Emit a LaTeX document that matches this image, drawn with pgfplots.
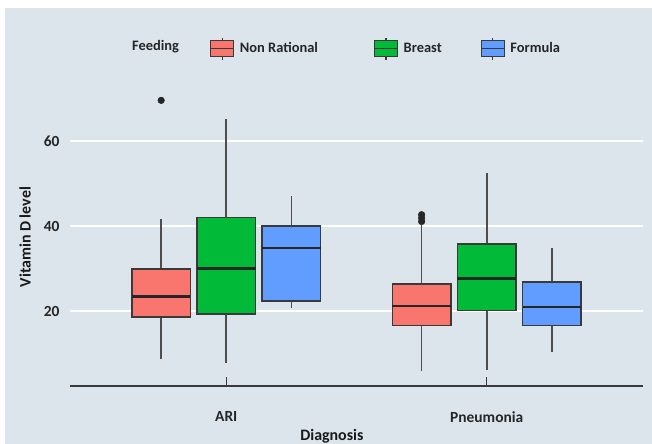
\documentclass[border=0pt]{standalone}
\usepackage{pgfplots}
\pgfplotsset{compat=1.18}
\usepgfplotslibrary{statistics}
\usepackage{fontspec}
\setmainfont{Carlito}
\definecolor{bgc}{RGB}{220,228,236}
\definecolor{nrred}{HTML}{F8766D}
\definecolor{brgreen}{HTML}{00BA38}
\definecolor{fmblue}{HTML}{619CFF}
\definecolor{edge}{HTML}{3A3A3A}
\newcommand\lgbox[1]{%
  \draw[edge, line width=1.1bp] (11.5bp,-11bp)--(11.5bp,11bp);
  \draw[edge, fill=#1, line width=1.1bp] (0bp,-8bp) rectangle (23bp,8bp);
  \draw[edge, line width=1.1bp] (0bp,0bp)--(23bp,0bp);
  \path (29bp,0bp);
}
\begin{document}
\begin{tikzpicture}
\path[use as bounding box] (0,0) rectangle (652bp,444bp);
\fill[white] (0,0) rectangle (652bp,444bp);
\fill[bgc] (5bp,0) rectangle (652bp,436bp);
\node[anchor=west, inner sep=0pt, text=black!85, font=\bfseries\fontsize{14.5}{17}\selectfont] at (132bp,397bp) {Feeding};
\begin{axis}[
  at={(70bp,58bp)}, anchor=south west,
  scale only axis, width=573bp, height=298.4bp,
  xmin=0.4, xmax=2.6, ymin=2.4, ymax=72.6,
  axis lines=left,
  axis line style={-},
  y axis line style={draw=none},
  x axis line style={edge, line width=1.3bp},
  xtick={1,2}, xticklabels={ARI,Pneumonia},
  ytick={20,40,60}, yticklabels={20,40,60},
  tick align=inside,
  major tick length=9bp,
  xtick style={edge, line width=1.2bp},
  ytick style={draw=none},
  ymajorgrids, grid style={white, line width=2bp},
  tick label style={font=\bfseries\fontsize{15.5}{18}\selectfont, text=black!85},
  xticklabel style={yshift=-22bp},
  yticklabel style={xshift=-7bp},
  xlabel={Diagnosis}, ylabel={Vitamin D level},
  every axis y label/.style={at={(axis description cs:-0.0785,0.499)}, rotate=90, anchor=center, font=\bfseries\fontsize{16}{19}\selectfont, text=black!90},
  every axis x label/.style={at={(axis description cs:0.457,-0.168)}, anchor=center, font=\bfseries\fontsize{16}{19}\selectfont, text=black!90},
  boxplot/draw direction=y,
  boxplot/box extend=0.225,
  boxplot/whisker extend=0,
  boxplot/every box/.append style={draw=edge, line width=1.6bp},
  boxplot/every whisker/.append style={draw=edge!90, line width=1.6bp},
  boxplot/every median/.append style={draw=black!85, line width=2.6bp},
  legend style={at={(rel axis cs:0.2443,1.131)}, anchor=west, draw=none, fill=none, inner sep=0pt, column sep=0pt, nodes={inner sep=0pt, font=\bfseries\fontsize{14.5}{17}\selectfont, text=black!85}},
  legend columns=3,
  legend cell align=left,
]
% ARI
\addplot[forget plot, fill=nrred, draw=edge, line width=1.6bp, mark=*, mark size=3.3bp, mark options={fill=black!85, draw=black!85, line width=0.5bp},
  boxplot prepared={draw position=0.75, lower whisker=8.8, lower quartile=18.6, median=23.5, upper quartile=29.95, upper whisker=41.8}]
  coordinates {(0,69.6)};
\addplot[forget plot, fill=brgreen, draw=edge, line width=1.6bp,
  boxplot prepared={draw position=1, lower whisker=7.9, lower quartile=19.4, median=30.1, upper quartile=42.0, upper whisker=65.2}]
  coordinates {};
\addplot[forget plot, fill=fmblue, draw=edge, line width=1.6bp,
  boxplot prepared={draw position=1.25, lower whisker=20.7, lower quartile=22.4, median=34.9, upper quartile=40.1, upper whisker=47.1}]
  coordinates {};
% Pneumonia
\addplot[forget plot, fill=nrred, draw=edge, line width=1.6bp, mark=*, mark size=3.3bp, mark options={fill=black!85, draw=black!85, line width=0.5bp},
  boxplot prepared={draw position=1.75, lower whisker=6.0, lower quartile=16.6, median=21.2, upper quartile=26.4, upper whisker=40.2}]
  coordinates {(0,42.7) (0,41.9) (0,41.1)};
\addplot[forget plot, fill=brgreen, draw=edge, line width=1.6bp,
  boxplot prepared={draw position=2, lower whisker=6.1, lower quartile=20.2, median=27.7, upper quartile=35.8, upper whisker=52.4}]
  coordinates {};
\addplot[forget plot, fill=fmblue, draw=edge, line width=1.6bp,
  boxplot prepared={draw position=2.25, lower whisker=10.4, lower quartile=16.6, median=21.0, upper quartile=26.9, upper whisker=34.8}]
  coordinates {};
\addlegendimage{legend image code/.code={\lgbox{nrred}}}
\addlegendentry{\makebox[134bp][l]{Non Rational}}
\addlegendimage{legend image code/.code={\lgbox{brgreen}}}
\addlegendentry{\makebox[77bp][l]{Breast}}
\addlegendimage{legend image code/.code={\lgbox{fmblue}}}
\addlegendentry{Formula}
\end{axis}
\end{tikzpicture}
\end{document}
